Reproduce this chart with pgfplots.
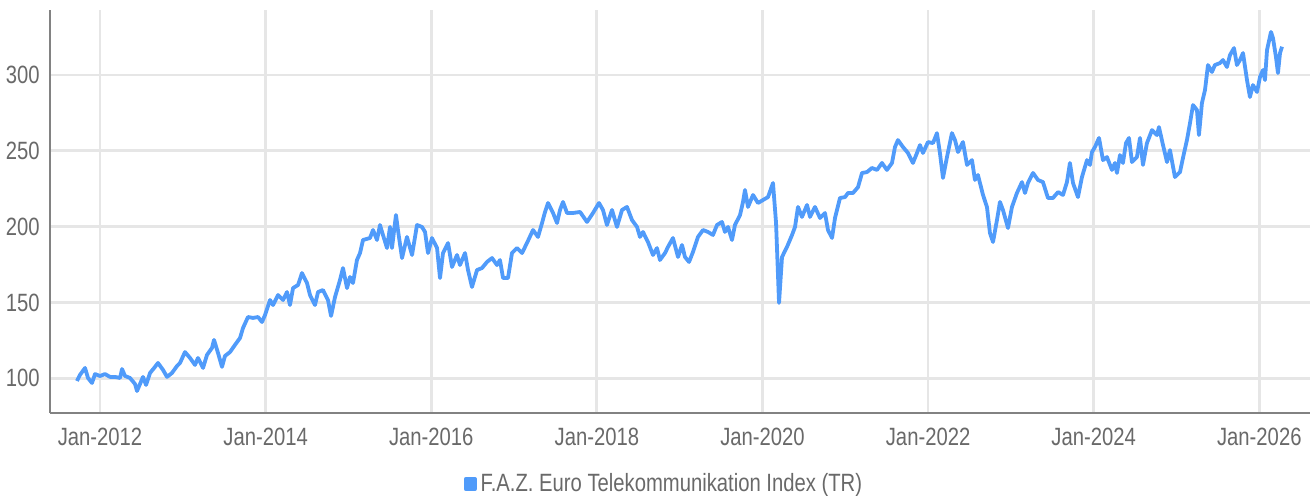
\documentclass[border=0pt]{standalone}
\usepackage{fontspec}
\setmainfont{Liberation Sans}[FakeStretch=0.81]
\usepackage{pgfplots}
\usepackage{pgfplotstable}
\pgfplotsset{compat=1.18}
\definecolor{lineblue}{RGB}{80,155,250}
\definecolor{gridgray}{RGB}{230,230,230}
\definecolor{axisgray}{RGB}{130,130,130}
\definecolor{textgray}{RGB}{105,105,105}
\pgfplotstableread{
t v
2011.722 98.2
2011.758 102.2
2011.819 106.8
2011.855 100.2
2011.903 96.9
2011.940 102.8
2012.000 101.5
2012.060 102.8
2012.121 100.9
2012.181 100.9
2012.242 100.2
2012.266 106.1
2012.302 101.5
2012.362 100.2
2012.423 96.2
2012.447 91.6
2012.483 96.2
2012.519 100.9
2012.556 95.6
2012.604 103.5
2012.664 107.5
2012.700 110.1
2012.761 105.5
2012.809 100.9
2012.869 103.5
2012.930 108.1
2012.966 110.1
2013.026 117.3
2013.087 113.4
2013.147 108.8
2013.183 113.4
2013.244 106.8
2013.292 115.4
2013.352 120.0
2013.377 125.3
2013.425 116.7
2013.473 107.5
2013.509 114.7
2013.570 117.3
2013.630 122.0
2013.691 126.6
2013.727 133.2
2013.787 140.4
2013.848 139.8
2013.908 140.4
2013.956 137.1
2013.993 141.7
2014.053 151.6
2014.089 148.3
2014.150 154.9
2014.210 151.6
2014.258 156.9
2014.294 148.3
2014.331 159.5
2014.391 161.5
2014.439 169.4
2014.500 162.8
2014.536 154.9
2014.596 148.3
2014.633 156.9
2014.693 158.2
2014.753 151.6
2014.790 141.1
2014.838 153.6
2014.898 164.8
2014.934 172.7
2014.983 159.5
2015.019 166.8
2015.055 162.8
2015.103 178.0
2015.140 182.6
2015.176 191.2
2015.260 192.5
2015.297 197.8
2015.345 191.2
2015.381 201.1
2015.417 194.5
2015.466 185.9
2015.502 199.8
2015.526 185.9
2015.574 207.7
2015.598 197.8
2015.647 179.3
2015.707 193.2
2015.768 181.3
2015.828 201.1
2015.888 199.8
2015.925 196.5
2015.961 182.6
2016.009 192.5
2016.070 185.9
2016.106 166.1
2016.142 182.6
2016.203 189.2
2016.251 173.4
2016.311 181.3
2016.347 174.7
2016.408 182.6
2016.444 171.4
2016.492 160.2
2016.553 171.4
2016.613 172.7
2016.673 176.7
2016.734 179.3
2016.794 174.7
2016.830 178.0
2016.867 166.1
2016.927 166.1
2016.975 182.6
2017.036 185.9
2017.096 182.6
2017.156 189.2
2017.229 197.8
2017.289 193.2
2017.338 202.4
2017.374 209.7
2017.410 215.6
2017.471 209.0
2017.519 202.4
2017.555 211.0
2017.591 216.3
2017.640 209.0
2017.712 209.0
2017.797 209.7
2017.881 203.1
2017.953 209.0
2018.026 215.6
2018.074 211.0
2018.122 201.1
2018.183 211.0
2018.243 199.8
2018.304 211.0
2018.364 213.0
2018.424 204.4
2018.485 199.8
2018.521 193.2
2018.557 196.5
2018.617 189.9
2018.678 181.3
2018.726 185.9
2018.762 178.0
2018.823 182.6
2018.859 186.6
2018.919 192.5
2018.980 180.0
2019.028 187.9
2019.064 180.0
2019.113 176.7
2019.161 183.3
2019.221 193.2
2019.282 197.8
2019.342 196.5
2019.402 194.5
2019.451 201.1
2019.511 203.1
2019.547 196.5
2019.584 199.8
2019.632 191.2
2019.668 201.1
2019.729 207.7
2019.765 216.3
2019.789 224.2
2019.825 213.0
2019.886 220.9
2019.946 215.6
2020.007 217.6
2020.067 219.5
2020.127 228.8
2020.164 202.4
2020.200 149.7
2020.236 180.0
2020.296 186.6
2020.357 194.5
2020.393 199.8
2020.429 213.0
2020.477 206.4
2020.538 214.3
2020.574 206.4
2020.634 213.0
2020.695 205.7
2020.755 209.0
2020.791 197.8
2020.840 192.5
2020.876 205.7
2020.936 218.9
2020.997 219.5
2021.033 222.2
2021.093 222.2
2021.154 226.1
2021.202 235.4
2021.262 236.0
2021.322 238.7
2021.383 237.4
2021.443 242.0
2021.503 237.4
2021.564 242.0
2021.600 252.5
2021.636 257.1
2021.697 252.5
2021.757 248.6
2021.817 242.0
2021.866 248.6
2021.902 253.8
2021.938 248.6
2021.999 255.8
2022.059 255.1
2022.107 261.7
2022.143 248.6
2022.180 232.1
2022.228 245.9
2022.288 261.7
2022.325 257.1
2022.361 249.2
2022.421 255.8
2022.470 240.7
2022.530 243.9
2022.566 230.8
2022.602 234.1
2022.663 220.9
2022.711 213.0
2022.747 195.8
2022.784 189.9
2022.832 204.4
2022.868 216.3
2022.904 211.0
2022.965 199.1
2023.013 213.0
2023.073 222.2
2023.134 229.4
2023.170 222.2
2023.206 228.8
2023.267 235.4
2023.327 230.8
2023.387 229.4
2023.448 218.9
2023.508 218.9
2023.569 222.8
2023.629 220.9
2023.677 229.4
2023.713 242.0
2023.750 228.8
2023.810 219.5
2023.858 232.7
2023.919 243.9
2023.955 240.7
2023.979 249.2
2024.015 252.5
2024.064 258.5
2024.112 243.9
2024.160 245.9
2024.220 237.4
2024.257 242.0
2024.281 235.4
2024.317 247.2
2024.353 242.0
2024.390 255.1
2024.426 258.5
2024.462 242.6
2024.522 245.9
2024.559 258.5
2024.595 240.7
2024.643 255.1
2024.704 263.7
2024.764 260.4
2024.788 265.7
2024.837 253.8
2024.885 242.6
2024.921 250.5
2024.981 232.7
2025.042 236.0
2025.078 245.3
2025.126 257.1
2025.163 268.3
2025.199 280.2
2025.247 276.9
2025.271 260.4
2025.307 281.5
2025.344 290.1
2025.380 306.6
2025.428 302.0
2025.464 306.6
2025.525 307.9
2025.561 309.9
2025.609 305.3
2025.646 313.2
2025.694 317.8
2025.730 306.6
2025.766 309.9
2025.803 314.5
2025.851 296.7
2025.887 285.5
2025.923 293.4
2025.972 288.8
2026.008 298.7
2026.044 303.3
2026.068 296.7
2026.093 316.5
2026.141 328.4
2026.165 324.4
2026.201 311.9
2026.225 301.3
2026.250 314.5
2026.274 318.7
}\faz
\begin{document}
\begin{tikzpicture}
\begin{axis}[
  scale only axis, width=630pt, height=201.5pt,
  xmin=2011.396, xmax=2026.612, ymin=77.1, ymax=342.9,
  axis x line*=bottom, axis y line*=left,
  axis line style={-, draw=axisgray, line width=1pt},
  grid=major, grid style={gridgray, line width=1.4pt},
  major tick length=0pt,
  xtick={2012,2014,2016,2018,2020,2022,2024,2026},
  xticklabels={Jan-2012,Jan-2014,Jan-2016,Jan-2018,Jan-2020,Jan-2022,Jan-2024,Jan-2026},
  ytick={100,150,200,250,300},
  /pgf/number format/assume math mode=true,
  tick label style={font=\fontsize{12.5}{15}\selectfont, text=textgray, inner sep=0pt},
  yticklabel style={xshift=-5pt},
  xticklabel style={yshift=-7.5pt},
  legend style={at={(0.5,0)}, anchor=center, yshift=-35.5pt, xshift=-7.5pt,
    draw=none, fill=none, font=\fontsize{12.5}{15}\selectfont, text=textgray},
  legend image code/.code={\fill[lineblue] (0pt,-2.6pt) rectangle (4.5pt,2.6pt);},
]
\addplot[lineblue, line width=1.9pt, line join=round] table[x=t, y=v] {\faz};
\addlegendentry{F.A.Z. Euro Telekommunikation Index (TR)}
\end{axis}
\pgfresetboundingbox
\path[use as bounding box] ([shift={(-25pt,-41.5pt)}]current axis.south west) rectangle ([shift={(632pt,206.5pt)}]current axis.south west);
\end{tikzpicture}
\end{document}
